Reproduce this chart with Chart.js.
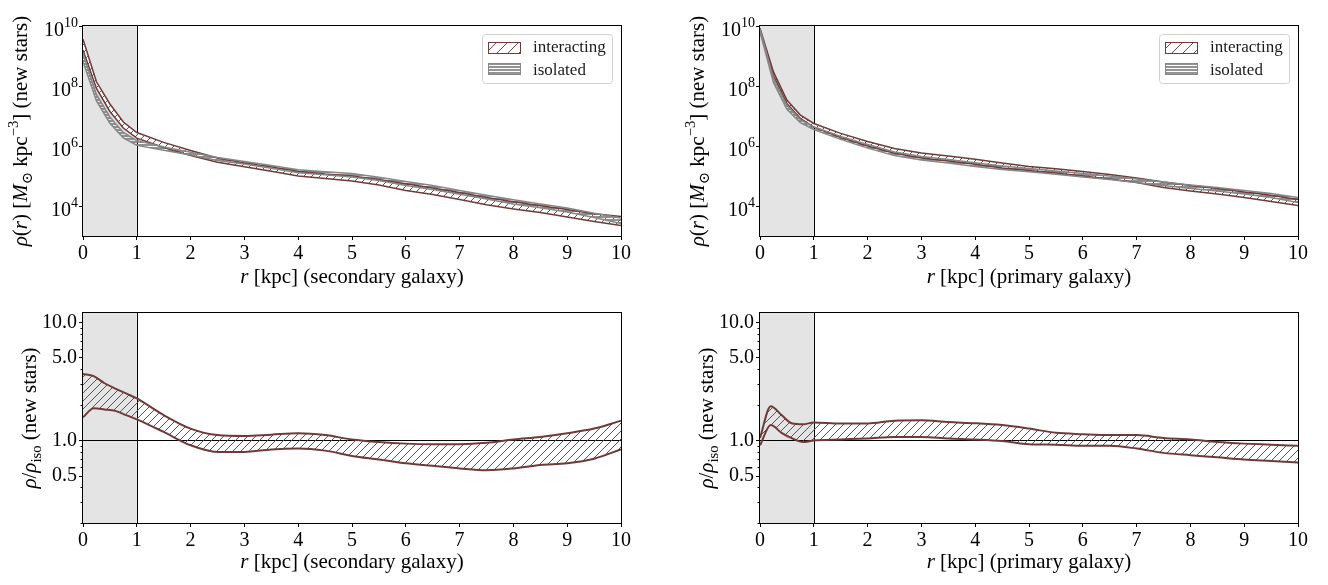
<!DOCTYPE html>
<html lang="en">
<head>
  <meta charset="UTF-8" />
  <title>New-star density profiles</title>
  <script src="https://cdn.jsdelivr.net/npm/chart.js@4.4.1/dist/chart.umd.min.js"></script>
  <style>
    body { margin: 0; background: #fff; }
    #wrap { position: relative; width: 1328px; height: 585px; overflow: hidden; }
    #wrap canvas { position: absolute; }
  </style>
</head>
<body>
  <div id="wrap">
    <canvas id="densSec" width="664" height="292" style="left:0;top:0"></canvas>
    <canvas id="densPri" width="664" height="292" style="left:664px;top:0"></canvas>
    <canvas id="ratioSec" width="664" height="293" style="left:0;top:292px"></canvas>
    <canvas id="ratioPri" width="664" height="293" style="left:664px;top:292px"></canvas>
  </div>

  <script>
    // radii [kpc] of the density profiles
    const radiusProfile = [0, 0.25, 0.5, 0.75, 1, 1.5, 2, 2.5, 3, 3.5, 4, 4.5, 5, 5.5, 6, 6.5, 7, 7.5, 8, 8.5, 9, 9.5, 10];
    // radii [kpc] of the ratio curves
    const radiusRatio = [0, 0.2, 0.4, 0.6, 0.8, 1, 1.5, 2, 2.5, 3, 3.5, 4, 4.5, 5, 5.5, 6, 6.5, 7, 7.5, 8, 8.5, 9, 9.5, 10];

    // log10 rho [Msun kpc^-3], secondary galaxy (upper / lower envelope)
    const secIntHi = [9.56, 8.14, 7.40, 6.80, 6.45, 6.12, 5.85, 5.60, 5.43, 5.30, 5.16, 5.07, 5.00, 4.88, 4.74, 4.60, 4.45, 4.28, 4.14, 4.01, 3.88, 3.74, 3.65];
    const secIntLo = [9.20, 7.92, 7.15, 6.60, 6.26, 5.95, 5.68, 5.46, 5.31, 5.16, 5.00, 4.92, 4.83, 4.70, 4.52, 4.38, 4.22, 4.04, 3.90, 3.78, 3.63, 3.48, 3.35];
    const secIsoHi = [9.08, 7.72, 6.97, 6.45, 6.18, 5.97, 5.79, 5.62, 5.48, 5.35, 5.21, 5.14, 5.08, 4.96, 4.82, 4.68, 4.52, 4.36, 4.21, 4.07, 3.93, 3.76, 3.60];
    const secIsoLo = [8.82, 7.50, 6.76, 6.27, 6.02, 5.86, 5.70, 5.52, 5.40, 5.26, 5.11, 5.04, 4.97, 4.85, 4.68, 4.55, 4.39, 4.23, 4.07, 3.94, 3.80, 3.62, 3.42];

    // log10 rho [Msun kpc^-3], primary galaxy
    const priIntHi = [9.93, 8.47, 7.53, 7.03, 6.75, 6.42, 6.15, 5.92, 5.77, 5.67, 5.56, 5.43, 5.32, 5.24, 5.15, 5.05, 4.93, 4.80, 4.68, 4.58, 4.47, 4.36, 4.22];
    const priIntLo = [9.85, 8.35, 7.42, 6.92, 6.63, 6.28, 6.00, 5.76, 5.60, 5.50, 5.39, 5.27, 5.18, 5.10, 5.00, 4.90, 4.78, 4.62, 4.50, 4.40, 4.28, 4.15, 4.02];
    const priIsoHi = [9.90, 8.25, 7.35, 6.88, 6.64, 6.32, 6.05, 5.80, 5.65, 5.55, 5.44, 5.33, 5.25, 5.17, 5.08, 5.00, 4.90, 4.80, 4.70, 4.62, 4.52, 4.42, 4.28];
    const priIsoLo = [9.80, 8.12, 7.22, 6.78, 6.55, 6.22, 5.93, 5.68, 5.53, 5.43, 5.32, 5.22, 5.14, 5.06, 4.97, 4.88, 4.78, 4.68, 4.58, 4.50, 4.40, 4.28, 4.12];

    // rho / rho_iso band
    const secRatioHi = [3.65, 3.50, 3.05, 2.75, 2.50, 2.27, 1.64, 1.26, 1.11, 1.09, 1.12, 1.15, 1.11, 1.02, 0.97, 0.94, 0.93, 0.93, 0.955, 1.02, 1.07, 1.15, 1.26, 1.47];
    const secRatioLo = [1.57, 1.87, 1.83, 1.78, 1.64, 1.51, 1.18, 0.91, 0.80, 0.80, 0.84, 0.855, 0.82, 0.74, 0.69, 0.64, 0.61, 0.58, 0.56, 0.58, 0.62, 0.64, 0.70, 0.84];
    const priRatioHi = [1.05, 1.95, 1.64, 1.39, 1.37, 1.42, 1.39, 1.39, 1.47, 1.48, 1.43, 1.40, 1.35, 1.26, 1.16, 1.13, 1.11, 1.11, 1.05, 1.02, 0.97, 0.94, 0.92, 0.90];
    const priRatioLo = [0.91, 1.35, 1.16, 1.04, 0.97, 1.00, 1.02, 1.04, 1.07, 1.07, 1.04, 1.02, 0.99, 0.93, 0.92, 0.90, 0.90, 0.855, 0.785, 0.75, 0.72, 0.69, 0.67, 0.65];

    // axis ticks
    const densityTickExp = [4, 6, 8, 10];
    const ratioMajorTicks = [0.5, 1, 5, 10];
    const ratioMinorTicks = [0.2, 0.3, 0.4, 0.6, 0.7, 0.8, 0.9, 2, 3, 4, 6, 7, 8, 9];
    const coreRadius = 1;   // inner kpc is shaded

    const FONT = '"Liberation Serif", "DejaVu Serif", serif';
    const BROWN = '#6e3b3b';
    const HATCH = '#7a4646';
    const GREY = '#878787';

    function diagHatch(color, bg, step) {
      const c = document.createElement('canvas');
      c.width = c.height = step;
      const g = c.getContext('2d');
      if (bg) { g.fillStyle = bg; g.fillRect(0, 0, step, step); }
      g.strokeStyle = color;
      g.lineWidth = 1;
      g.beginPath();
      g.moveTo(-1, step + 1); g.lineTo(step + 1, -1);
      g.moveTo(-1, 1); g.lineTo(1, -1);
      g.moveTo(step - 1, step + 1); g.lineTo(step + 1, step - 1);
      g.stroke();
      return g.createPattern(c, 'repeat');
    }

    function horizHatch(color) {
      const c = document.createElement('canvas');
      c.width = 4; c.height = 3;
      const g = c.getContext('2d');
      g.fillStyle = color;
      g.fillRect(0, 0, 4, 2);
      return g.createPattern(c, 'repeat');
    }

    const hatchInt = diagHatch(HATCH, '#ffffff', 8);
    const hatchIntClear = diagHatch(HATCH, null, 8);
    const hatchLegend = diagHatch(HATCH, '#ffffff', 11);
    const hatchIso = horizHatch('rgba(128,128,128,0.85)');

    // text runs: [text, style], style is r (roman), i (italic), sup, sub
    function setFont(ctx, size, italic) {
      ctx.font = (italic ? 'italic ' : '') + size + 'px ' + FONT;
    }
    function drawRuns(ctx, runs, size, x, y, align) {
      let w = 0;
      const laid = runs.map(([t, s]) => {
        const small = s === 'sup' || s === 'sub';
        const fs = small ? size * 0.7 : size;
        setFont(ctx, fs, s === 'i');
        const item = { t, fs, it: s === 'i', x: w, dy: s === 'sup' ? -size * 0.42 : s === 'sub' ? size * 0.22 : 0 };
        w += ctx.measureText(t).width;
        return item;
      });
      const x0 = align === 'center' ? x - w / 2 : align === 'right' ? x - w : x;
      ctx.textAlign = 'left';
      ctx.textBaseline = 'alphabetic';
      laid.forEach(o => { setFont(ctx, o.fs, o.it); ctx.fillText(o.t, x0 + o.x, y + o.dy); });
    }

    const densTitle = [['ρ', 'i'], ['(', 'r'], ['r', 'i'], [') [', 'r'], ['M', 'i'], ['⊙', 'sub'], [' kpc', 'r'], ['−3', 'sup'], ['] (new stars)', 'r']];
    const ratioTitle = [['ρ', 'i'], ['/', 'r'], ['ρ', 'i'], ['iso', 'sub'], [' (new stars)', 'r']];

    function decor(o) {
      return {
        id: 'decor',
        beforeDraw(chart) {
          const { ctx, chartArea: a, scales: { x, y } } = chart;
          ctx.save();
          const xc = x.getPixelForValue(coreRadius);
          ctx.fillStyle = '#e4e4e4';
          ctx.fillRect(a.left, a.top, xc - a.left, a.bottom - a.top);
          ctx.strokeStyle = '#000';
          ctx.lineWidth = 1;
          ctx.beginPath();
          ctx.moveTo(Math.round(xc) + 0.5, a.top);
          ctx.lineTo(Math.round(xc) + 0.5, a.bottom);
          if (o.ratio) {
            const yy = Math.round(y.getPixelForValue(1)) + 0.5;
            ctx.moveTo(a.left, yy);
            ctx.lineTo(a.right, yy);
          }
          ctx.stroke();
          ctx.restore();
        },
        afterDraw(chart) {
          const { ctx, chartArea: a, scales: { y } } = chart;
          ctx.save();
          // frame
          ctx.strokeStyle = '#000';
          ctx.lineWidth = 1;
          ctx.strokeRect(Math.round(a.left) - 0.5, Math.round(a.top) - 0.5,
            Math.round(a.right) - Math.round(a.left) + 1, Math.round(a.bottom) - Math.round(a.top) + 1);
          ctx.fillStyle = '#000';

          if (o.ratio) {
            ctx.beginPath();
            ratioMinorTicks.forEach(v => {
              const yy = Math.round(y.getPixelForValue(v)) + 0.5;
              ctx.moveTo(a.left - 2.5, yy);
              ctx.lineTo(a.left, yy);
            });
            ctx.stroke();
          } else {
            densityTickExp.forEach(e => {
              const yy = y.getPixelForValue(10 ** e);
              drawRuns(ctx, [['10', 'r'], [String(e), 'sup']], 20, a.left - 5, yy + 9.5, 'right');
            });
          }

          // axis titles
          drawRuns(ctx, [['r', 'i'], [' [kpc] (' + o.galaxy + ' galaxy)', 'r']], 21,
            (a.left + a.right) / 2, a.bottom + o.xTitleGap, 'center');
          ctx.save();
          ctx.translate(a.left - o.yTitleGap, (a.top + a.bottom) / 2);
          ctx.rotate(-Math.PI / 2);
          drawRuns(ctx, o.ratio ? ratioTitle : densTitle, 21, 0, 0, 'center');
          ctx.restore();

          if (!o.ratio) {
            // legend
            const bw = 130, bh = 49;
            const bx = a.right - 9 - bw, by = a.top + 8;
            ctx.beginPath();
            ctx.roundRect(bx + 0.5, by + 0.5, bw, bh, 3);
            ctx.fillStyle = 'rgba(255,255,255,0.8)';
            ctx.fill();
            ctx.strokeStyle = '#d0d0d0';
            ctx.stroke();

            ctx.fillStyle = hatchLegend;
            ctx.fillRect(bx + 6, by + 8, 33, 12);
            ctx.strokeStyle = BROWN;
            ctx.strokeRect(bx + 6.5, by + 8.5, 32, 11);

            ctx.fillStyle = '#fff';
            ctx.fillRect(bx + 6, by + 29, 33, 12);
            ctx.fillStyle = hatchIso;
            ctx.fillRect(bx + 6, by + 29, 33, 12);
            ctx.strokeStyle = GREY;
            ctx.strokeRect(bx + 6.5, by + 29.5, 32, 11);

            ctx.fillStyle = '#1a1a1a';
            drawRuns(ctx, [['interacting', 'r']], 17, bx + 51, by + 18, 'left');
            drawRuns(ctx, [['isolated', 'r']], 17, bx + 51, by + 41, 'left');
          }
          ctx.restore();
        }
      };
    }

    const toPoints = (rs, vals, log) => rs.map((r, i) => ({ x: r, y: log ? 10 ** vals[i] : vals[i] }));

    function line(data, color, width, fill, bg, curve) {
      return {
        data, borderColor: color, borderWidth: width, pointRadius: 0,
        fill, backgroundColor: bg || 'transparent',
        tension: 0, cubicInterpolationMode: curve ? 'monotone' : 'default'
      };
    }

    function xScale(height) {
      return {
        type: 'linear', min: 0, max: 10,
        ticks: { stepSize: 1, color: '#000', font: { family: FONT, size: 20 }, padding: 2, autoSkip: false, maxRotation: 0 },
        grid: { drawOnChartArea: false, drawTicks: true, tickLength: 4, color: '#000' },
        border: { display: false },
        afterFit: s => { s.height = height; }
      };
    }

    function makePanel(id, o, datasets) {
      const yScale = o.ratio ? {
        type: 'logarithmic', min: 0.2, max: 12,
        afterBuildTicks: s => { s.ticks = ratioMajorTicks.map(v => ({ value: v })); },
        ticks: { callback: v => Number(v).toFixed(1), color: '#000', font: { family: FONT, size: 20 }, padding: 2, autoSkip: false },
        grid: { drawOnChartArea: false, drawTicks: true, tickLength: 4, color: '#000' },
        border: { display: false },
        afterFit: s => { s.width = o.yWidth; }
      } : {
        type: 'logarithmic', min: 1e3, max: 1e10,
        afterBuildTicks: s => { s.ticks = densityTickExp.map(e => ({ value: 10 ** e })); },
        ticks: { callback: () => '', padding: 2, autoSkip: false },
        grid: { drawOnChartArea: false, drawTicks: true, tickLength: 4, color: '#000' },
        border: { display: false },
        afterFit: s => { s.width = o.yWidth; }
      };
      return new Chart(document.getElementById(id), {
        type: 'line',
        data: { datasets },
        options: {
          responsive: false,
          animation: false,
          events: [],
          parsing: false,
          layout: { padding: { left: 0, top: o.padTop, right: o.padRight, bottom: 0 } },
          scales: { x: xScale(o.xHeight), y: yScale },
          plugins: { legend: { display: false }, tooltip: { enabled: false }, filler: { drawTime: 'beforeDatasetsDraw' } }
        },
        plugins: [decor(o)]
      });
    }

    // isolated runs first so they are drawn over the interacting band
    makePanel('densSec', { ratio: false, galaxy: 'secondary', padTop: 26, padRight: 43, yWidth: 83, xHeight: 56, xTitleGap: 47, yTitleGap: 56 }, [
      line(toPoints(radiusProfile, secIsoHi, true), GREY, 1.5, '+1', hatchIso),
      line(toPoints(radiusProfile, secIsoLo, true), GREY, 1.5, false),
      line(toPoints(radiusProfile, secIntHi, true), BROWN, 1.5, '+1', hatchInt),
      line(toPoints(radiusProfile, secIntLo, true), BROWN, 1.5, false)
    ]);

    makePanel('densPri', { ratio: false, galaxy: 'primary', padTop: 26, padRight: 30, yWidth: 96, xHeight: 56, xTitleGap: 47, yTitleGap: 56 }, [
      line(toPoints(radiusProfile, priIsoHi, true), GREY, 1.5, '+1', hatchIso),
      line(toPoints(radiusProfile, priIsoLo, true), GREY, 1.5, false),
      line(toPoints(radiusProfile, priIntHi, true), BROWN, 1.5, '+1', hatchInt),
      line(toPoints(radiusProfile, priIntLo, true), BROWN, 1.5, false)
    ]);

    makePanel('ratioSec', { ratio: true, galaxy: 'secondary', padTop: 21, padRight: 43, yWidth: 83, xHeight: 62, xTitleGap: 45, yTitleGap: 47 }, [
      line(toPoints(radiusRatio, secRatioHi), BROWN, 2, '+1', hatchIntClear, true),
      line(toPoints(radiusRatio, secRatioLo), BROWN, 2, false, null, true)
    ]);

    makePanel('ratioPri', { ratio: true, galaxy: 'primary', padTop: 21, padRight: 30, yWidth: 96, xHeight: 62, xTitleGap: 45, yTitleGap: 47 }, [
      line(toPoints(radiusRatio, priRatioHi), BROWN, 2, '+1', hatchIntClear, true),
      line(toPoints(radiusRatio, priRatioLo), BROWN, 2, false, null, true)
    ]);
  </script>
</body>
</html>
